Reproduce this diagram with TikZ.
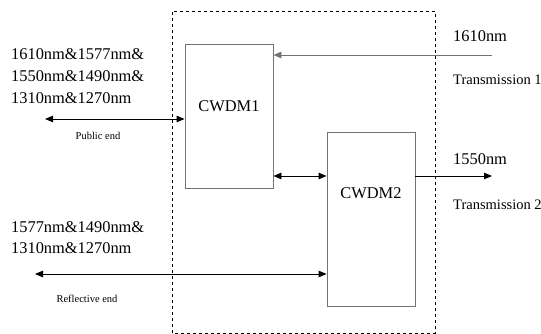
\documentclass[tikz,border=0pt]{standalone}
\usepackage{fontspec}
\setmainfont{Liberation Serif}
\usetikzlibrary{arrows.meta,positioning,calc}

\begin{document}
\begin{tikzpicture}[x=1pt,y=1pt,
  box/.style={draw=gray!90!black,line width=0.9pt,minimum width=88pt,inner sep=0pt},
  big/.style={font=\fontsize{16.4}{22}\selectfont,inner sep=0pt},
  small/.style={font=\fontsize{10.5}{12}\selectfont,inner sep=0pt},
  mid/.style={font=\fontsize{14.5}{16}\selectfont,inner sep=0pt},
  arr/.style={-{Triangle[length=8pt,width=6.5pt]},line width=0.9pt},
  darr/.style={{Triangle[length=8pt,width=6.5pt]}-{Triangle[length=8pt,width=6.5pt]},line width=0.9pt}]
\useasboundingbox (0,0) rectangle (541,334);
\draw[dashed,line width=0.7pt](172,1) rectangle (435,323);
\node[box,minimum height=144pt](c1) at(229,218){};
\node[box,minimum height=174pt](c2) at(371,115){};
\node[big](t1) at(229,228){CWDM1};
\node[big](t2) at(371,141){CWDM2};
% left side texts
\node[big,align=left,anchor=north west](pubwl) at(11,285.5){1610nm\&1577nm\&\\1550nm\&1490nm\&\\1310nm\&1270nm};
\node[big,align=left,anchor=north west,font=\fontsize{16.4}{21}\selectfont](refwl) at(11,112.5){1577nm\&1490nm\&\\1310nm\&1270nm};
\node[small](pl) at(98,198){Public end};
\node[small](rl) at(87,35){Reflective end};
% right side texts
\node[big,anchor=west](w1) at(453,298){1610nm};
\node[mid,anchor=west](tr1) at(453,254){Transmission 1};
\node[big,anchor=west](w2) at(453,175){1550nm};
\node[mid,anchor=west](tr2) at(453,129){Transmission 2};
% connectors
\coordinate (in1) at(492,279);
\coordinate (pub) at(45,215);
\coordinate (refl) at(35,60);
\coordinate (out2) at(492,158);
\coordinate (link) at(c1.east |- out2);
\draw[arr,gray!90!black](in1)--(in1 -| c1.east);
\draw[darr](pub)--(pub -| c1.west);
\draw[darr](link)--(link -| c2.west);
\draw[arr](out2 -| c2.east)--(out2);
\draw[darr](refl)--(refl -| c2.west);
\end{tikzpicture}
\end{document}
